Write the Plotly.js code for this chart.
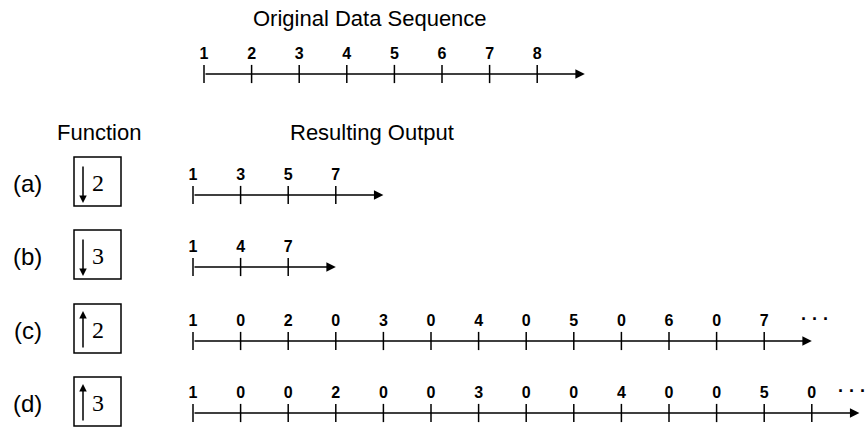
<!DOCTYPE html>
<html><head><meta charset="utf-8">
<script src="https://cdn.plot.ly/plotly-3.0.1.min.js"></script>
<style>html,body{margin:0;padding:0;background:#fff}#chart{width:868px;height:427px}</style>
</head><body><div id="chart"></div>
<script>
// ---- Data ----
const originalSequence = [1, 2, 3, 4, 5, 6, 7, 8];
const rowLabels = ['(a)', '(b)', '(c)', '(d)'];
const functionDirections = ['down', 'down', 'up', 'up'];
const functionFactors = [2, 3, 2, 3];
const outputA = [1, 3, 5, 7];
const outputB = [1, 4, 7];
const outputC = [1, 0, 2, 0, 3, 0, 4, 0, 5, 0, 6, 0, 7];
const outputD = [1, 0, 0, 2, 0, 0, 3, 0, 0, 4, 0, 0, 5, 0];
const outputContinues = [false, false, true, true];
const originalTitle = 'Original Data Sequence';
const functionTitle = 'Function';
const outputTitle = 'Resulting Output';

// ---- Layout constants (pixels) ----
const W = 868, H = 427;
const STEP = 47.6, ORIGIN = 193;
const ORIG_OFFSET = (204 - ORIGIN) / STEP;
const origAxisY = 74;
const rowAxisY = [195, 267, 341, 413];
const LABEL_DY = -19;
const boxLeft = 74, boxRight = 121, boxH = 49;
const boxTop = [157, 230, 304, 377];
const xu = px => (px - ORIGIN) / STEP;

const outputs = [outputA, outputB, outputC, outputD];
const FONT = 'Liberation Sans, Arial, sans-serif';
const traces = [];
const annotations = [];
const shapes = [];

function addSequence(values, offset, axisY, cont, dotsShift) {
  const xs = values.map((v, i) => i + offset);
  traces.push({
    type: 'scatter', mode: 'markers', x: xs, y: xs.map(() => axisY),
    marker: {symbol: 'line-ns', size: 13, color: '#000', line: {width: 1.5, color: '#000'}},
    hoverinfo: 'skip', cliponaxis: false
  });
  traces.push({
    type: 'scatter', mode: 'text', x: xs, y: xs.map(() => axisY + LABEL_DY),
    text: values.map(String), textposition: 'middle center',
    textfont: {family: FONT, size: 16, color: '#000', weight: 'bold'},
    hoverinfo: 'skip', cliponaxis: false
  });
  annotations.push({
    x: values.length + offset, y: axisY, ax: offset, ay: axisY,
    xref: 'x', yref: 'y', axref: 'x', ayref: 'y', text: '',
    showarrow: true, arrowhead: 2, arrowsize: 1.35, arrowwidth: 1.4,
    arrowcolor: '#000', standoff: 0, startstandoff: 0
  });
  if (cont) {
    annotations.push({
      x: values.length - 1 + dotsShift, y: axisY + LABEL_DY - 3, xref: 'x', yref: 'y',
      text: '· · ·', showarrow: false, xanchor: 'center', yanchor: 'middle',
      font: {family: FONT, size: 18, color: '#000', weight: 'bold'}
    });
  }
}

addSequence(originalSequence, ORIG_OFFSET, origAxisY, false, 0);
const dotsShift = [0, 0, 1.07, 0.85];
outputs.forEach((vals, r) => addSequence(vals, 0, rowAxisY[r], outputContinues[r], dotsShift[r]));

// titles
annotations.push({x: xu(370), y: 18, xref: 'x', yref: 'y', text: originalTitle, showarrow: false,
  font: {family: FONT, size: 22, color: '#000'}});
annotations.push({x: xu(99), y: 132, xref: 'x', yref: 'y', text: functionTitle, showarrow: false,
  font: {family: FONT, size: 22, color: '#000'}});
annotations.push({x: xu(372), y: 132, xref: 'x', yref: 'y', text: outputTitle, showarrow: false,
  font: {family: FONT, size: 22, color: '#000'}});

// function boxes and row labels
rowLabels.forEach((lab, r) => {
  const top = boxTop[r], cy = top + boxH / 2;
  annotations.push({x: xu(27.5), y: cy + 2, xref: 'x', yref: 'y', text: lab, showarrow: false,
    font: {family: FONT, size: 24, color: '#000'}});
  shapes.push({type: 'rect', xref: 'x', yref: 'y', x0: xu(boxLeft), x1: xu(boxRight),
    y0: top, y1: top + boxH, line: {color: '#000', width: 1.5}});
  const down = functionDirections[r] === 'down';
  const yStart = down ? top + 8 : top + 45;
  const yEnd = down ? top + 46 : top + 7;
  annotations.push({x: xu(83), y: yEnd, ax: xu(83), ay: yStart, xref: 'x', yref: 'y',
    axref: 'x', ayref: 'y', text: '', showarrow: true, arrowhead: 2, arrowsize: 1.0,
    arrowwidth: 1.5, arrowcolor: '#000', standoff: 0, startstandoff: 0});
  annotations.push({x: xu(98), y: cy + 1, xref: 'x', yref: 'y', text: String(functionFactors[r]),
    showarrow: false, font: {family: 'Liberation Serif, Times New Roman, serif', size: 24, color: '#000'}});
});

const layout = {
  width: W, height: H, margin: {l: 0, r: 0, t: 0, b: 0},
  paper_bgcolor: '#fff', plot_bgcolor: '#fff', showlegend: false,
  xaxis: {range: [xu(0), xu(W)], visible: false, fixedrange: true},
  yaxis: {range: [H, 0], visible: false, fixedrange: true},
  annotations: annotations, shapes: shapes
};
Plotly.newPlot('chart', traces, layout, {staticPlot: true, displayModeBar: false});
</script></body></html>
